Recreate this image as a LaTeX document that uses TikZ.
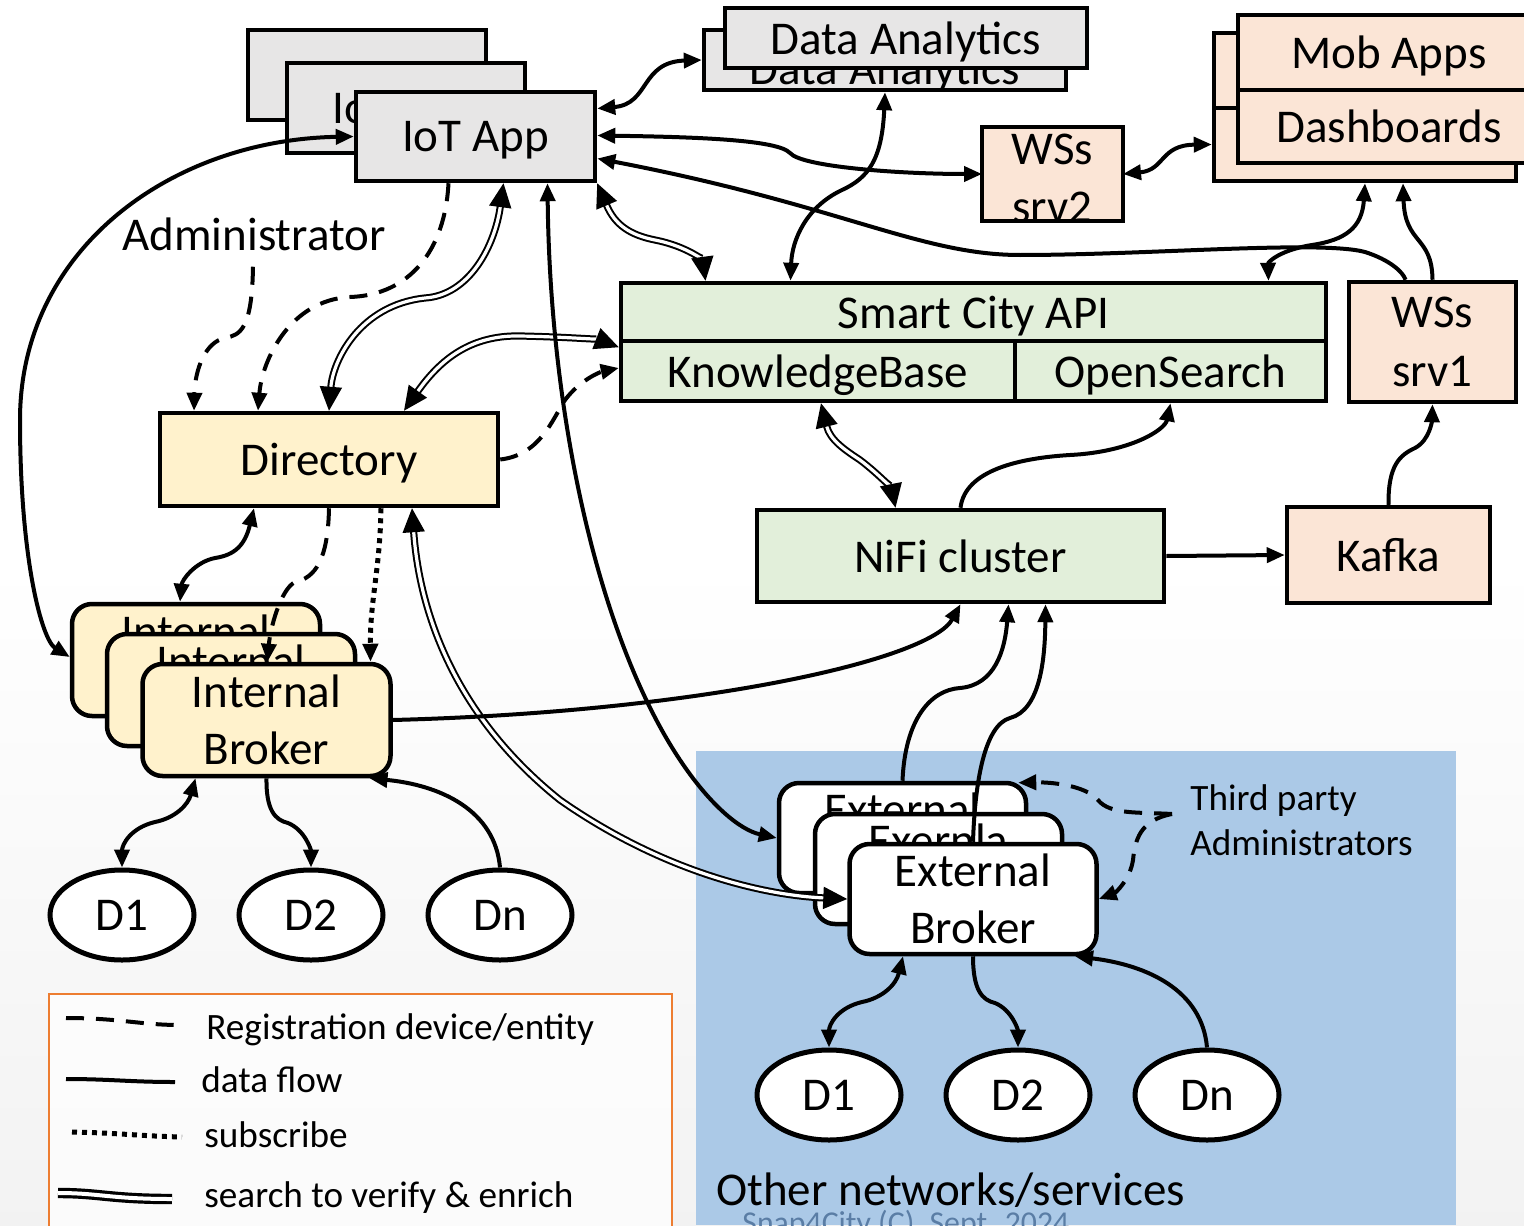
\documentclass[tikz,border=0pt]{standalone}
\usepackage{fontspec}
\setmainfont{Carlito}
\usetikzlibrary{arrows.meta,shapes.geometric,calc}
\definecolor{grayfill}{HTML}{E7E6E6}
\definecolor{yel}{HTML}{FFF2CC}
\definecolor{grn}{HTML}{E2EFDA}
\definecolor{pch}{HTML}{FBE5D6}
\definecolor{org}{HTML}{ED7D31}
\definecolor{blu}{RGB}{171,201,231}
\definecolor{snapc}{RGB}{90,125,165}
\newcommand\msz{\fontsize{23.5pt}{28.5pt}\selectfont}
\newcommand\ssz{\fontsize{18.6pt}{22.5pt}\selectfont}
\begin{document}
\begin{tikzpicture}[x=0.5pt,y=-0.5pt,
 box/.style={draw=black, line width=2.25pt, inner sep=0pt, font=\msz, align=center, text depth=0pt},
 gbox/.style={box, fill=grayfill},
 ybox/.style={box, fill=yel},
 gnbox/.style={box, fill=grn},
 pbox/.style={box, fill=pch},
 ibox/.style={box, fill=yel, rounded corners=10pt, minimum width=124pt, minimum height=56pt},
 ebox/.style={box, fill=white, rounded corners=10pt, minimum width=123.5pt, minimum height=55pt},
 dev/.style={draw=black, line width=2.5pt, fill=white, ellipse, minimum width=72pt, minimum height=45pt, inner sep=0pt, font=\msz},
 conn/.style={draw=black, line width=2pt, >={Triangle[length=9pt,width=7.5pt]}},
 dbl/.style={draw=black, double=white, line width=1pt, double distance=1.6pt, >={Triangle[length=12pt,width=11pt]}},
 dsh/.style={conn, dash pattern=on 9pt off 6pt},
 dtt/.style={conn, line width=2.5pt, dash pattern=on 2.5pt off 2.5pt},
 lbl/.style={inner sep=0pt}
]
\useasboundingbox (0,0) rectangle (1524,1225);
\fill[white] (0,0) rectangle (1524,1225);
\shade[top color=white, bottom color=gray!10] (0,560) rectangle (1524,1225);
\fill[blu] (696,751) rectangle (1456,1225);
\draw[org, line width=1pt, fill=white, fill opacity=0.7] (49,994) rectangle (672,1240);

% IoT App stack
\node[gbox, minimum width=119pt, minimum height=45pt] (iotb1) at (367,75) {};
\node[gbox, minimum width=119pt, minimum height=45pt] (iotb2) at (406,108) {IoT App};
\node[gbox, minimum width=119.5pt, minimum height=44.5pt] (iot) at (475.5,136.5) {IoT App};

% Data Analytics stack
\node[gbox, minimum width=181pt, minimum height=30pt] (datab) at (885,60) {};
\node[lbl, font=\msz, text depth=0pt] (databt) at (885,68) {Data Analytics};
\node[gbox, minimum width=181pt, minimum height=30pt] (data) at (906,38) {Data Analytics};

% Mob Apps / Dashboards
\node[pbox, minimum width=151pt, minimum height=37.5pt] (mobb) at (1365,70.5) {};
\node[pbox, minimum width=151pt, minimum height=36.5pt] (dashb) at (1365,144.5) {};
\node[pbox, minimum width=151pt, minimum height=37.5pt] (mob) at (1389,52.5) {Mob Apps};
\node[pbox, minimum width=151pt, minimum height=36.5pt] (dash) at (1389,126.5) {Dashboards};

% WSs srv2
\node[pbox, outer sep=0pt, minimum width=70.5pt, minimum height=47pt] (srv2) at (1052.5,174) {};
\begin{scope}
\clip (982,127) rectangle (1123,221);
\node[lbl, font=\fontsize{23.5pt}{29pt}\selectfont, align=center] (srv2t) at (1052.5,178) {WSs\\srv2};
\end{scope}
\draw[line width=2.25pt] (srv2.south west) rectangle (srv2.north east);

% Smart City API block
\node[gnbox, minimum width=352.5pt, minimum height=29pt] (sca) at (973.5,312) {Smart City API};
\node[gnbox, minimum width=197pt, minimum height=30pt] (kb) at (818,371) {KnowledgeBase};
\node[gnbox, minimum width=155.5pt, minimum height=30pt] (os) at (1170.5,371) {OpenSearch};
\node[pbox, minimum width=83.5pt, minimum height=60pt, font=\fontsize{23.5pt}{29.5pt}\selectfont] (srv1) at (1432.5,342) {WSs\\srv1};

\node[ybox, minimum width=169pt, minimum height=46.5pt] (dir) at (329,459.5) {Directory};
\node[gnbox, minimum width=203.5pt, minimum height=46pt] (nifi) at (960.5,556) {NiFi cluster};
\node[pbox, minimum width=101.5pt, minimum height=48pt] (kafka) at (1388.5,555) {Kafka};

% Internal brokers
\node[ibox] (ib1) at (196,660) {Internal\\Broker};
\node[ibox] (ib2) at (231,690) {Internal\\Broker};
\node[ibox] (ib) at (266.5,720) {Internal\\Broker};

% External brokers
\node[ebox] (eb1) at (902.5,838) {External\\Broker};
\node[ebox] (eb2) at (938.5,869) {Exernla\\Broker};
\node[ebox] (eb) at (973,899) {External\\Broker};

% devices
\node[dev] (d1) at (122,915) {D1};
\node[dev] (d2) at (311,915) {D2};
\node[dev] (dn) at (500,915) {Dn};
\node[dev] (ed1) at (829,1095) {D1};
\node[dev] (ed2) at (1018,1095) {D2};
\node[dev] (edn) at (1207,1095) {Dn};

% labels
\node[lbl, font=\msz, anchor=base west] (admin) at (122,250) {Administrator};
\node[lbl, font=\ssz, align=left, anchor=west] (tp) at (1190,820) {Third party\\Administrators};
\node[lbl, font=\msz, anchor=base west] (other) at (716,1205) {Other networks/services};
\node[lbl, font=\fontsize{15.9pt}{19pt}\selectfont, text=snapc, anchor=base west] (snap) at (742,1233) {Snap4City (C), Sept. 2024};

% legend
\node[lbl, font=\ssz, anchor=base west] (l1) at (206,1039) {Registration device/entity};
\node[lbl, font=\ssz, anchor=base west] (l2) at (201,1092) {data flow};
\node[lbl, font=\ssz, anchor=base west] (l3) at (204,1147) {subscribe};
\node[lbl, font=\ssz, anchor=base west] (l4) at (204,1207) {search to verify \& enrich};
\draw[dsh] (66,1018) .. controls (120,1018) and (140,1025) .. (180,1025);
\draw[conn] (66,1079) .. controls (110,1079) and (130,1082) .. (175,1082);
\draw[dtt] (72,1132) .. controls (120,1133) and (140,1136) .. (182,1137);
\draw[dbl, line width=1.6pt, double distance=2pt] (58,1193) .. controls (100,1193) and (110,1199) .. (172,1199);

% connectors
\draw[conn,<->] ([shift={(0,-28)}]iot.east) .. controls (650,104) and (640,62) .. (datab.west);
\draw[conn,<->] (datab.south) .. controls (882,160) and (868,178) .. (842,190) .. controls (806,207) and (792,240) .. ([shift={(-183,0)}]sca.north);
\draw[conn,<->] ([shift={(0,-1)}]iot.east) .. controls (700,137) and (778,140) .. (790,153) .. controls (802,167) and (900,174) .. (srv2.west);
\draw[conn,<-] ([shift={(0,22)}]iot.east) .. controls (840,205) and (920,255) .. (1020,255) .. controls (1150,255) and (1320,240) .. (1365,252) .. controls (1390,260) and (1403,272) .. ([shift={(-27,0)}]srv1.north);
\draw[conn,<->] (srv2.east) .. controls (1165,170) and (1160,145) .. (dashb.west);
\draw[conn,<->] (dashb.south) .. controls (1362,228) and (1345,240) .. (1312,245) .. controls (1280,250) and (1268,262) .. ([shift={(295,0)}]sca.north);
\draw[conn,->] (srv1.north) .. controls (1432,235) and (1405,245) .. ([shift={(38,0)}]dashb.south);
\draw[dbl,<->] (iot.south east) .. controls (615,225) and (630,235) .. (655,240) .. controls (690,247) and (703,262) .. ([shift={(-268,0)}]sca.north);
\draw[dbl,<->] ([shift={(28,0)}]iot.south) .. controls (495,245) and (470,295) .. (425,298) .. controls (360,305) and (333,360) .. (dir.north);
\draw[dbl,<->] ([shift={(75,0)}]dir.north) .. controls (440,360) and (470,335) .. (520,336) .. controls (570,337) and (600,340) .. ([shift={(0,4)}]sca.south west);
\draw[dsh,->] (dir.east) .. controls (540,455) and (552,420) .. (565,400) .. controls (580,380) and (600,372) .. ([shift={(0,-3)}]kb.west);
\draw[dsh,->] ([shift={(-27,0)}]iot.south) .. controls (445,250) and (410,295) .. (350,297) .. controls (290,300) and (262,360) .. ([shift={(-71,0)}]dir.north);
\draw[dsh,->] ([shift={(131,16)}]admin.south west) .. controls (252,330) and (240,335) .. (225,338) .. controls (205,342) and (195,370) .. ([shift={(-135,0)}]dir.north);
\draw[conn,<->] ([shift={(-75,0)}]dir.south) .. controls (245,545) and (235,555) .. (215,558) .. controls (195,562) and (182,580) .. ([shift={(-16,0)}]ib1.north);
\draw[dsh,->] (dir.south) .. controls (328,560) and (315,578) .. (295,582) .. controls (280,590) and (270,630) .. ([shift={(1,0)}]ib.north);
\draw[dtt,->] ([shift={(52,0)}]dir.south) .. controls (380,570) and (370,600) .. ([shift={(104,0)}]ib.north);
\draw[conn,<->] (iot.west) .. controls (170,140) and (20,250) .. (20,420) .. controls (20,560) and (42,640) .. ([shift={(0,-3)}]ib1.west);
\draw[conn,<->] ([shift={(72,0)}]iot.south) .. controls (550,420) and (600,640) .. (680,760) .. controls (710,805) and (740,830) .. (eb1.west);
\draw[dbl,<->] ([shift={(83,0)}]dir.south) .. controls (420,620) and (460,720) .. (560,800) .. controls (660,870) and (760,895) .. (eb.west);
\draw[conn,->] (ib.east) .. controls (700,712) and (930,660) .. (nifi.south);
\draw[conn,->] (eb1.north) .. controls (905,720) and (930,690) .. (960,688) .. controls (995,685) and (1005,650) .. ([shift={(48,0)}]nifi.south);
\draw[conn,->] (eb.north) .. controls (975,780) and (985,725) .. (1010,718) .. controls (1040,710) and (1045,660) .. ([shift={(85,0)}]nifi.south);
\draw[dbl,<->] ([shift={(3,0)}]kb.south) .. controls (830,440) and (845,450) .. (860,460) .. controls (880,475) and (892,490) .. ([shift={(-65,0)}]nifi.north);
\draw[conn,->] (nifi.north) .. controls (965,470) and (1020,458) .. (1070,455) .. controls (1130,452) and (1165,430) .. (os.south);
\draw[conn,->] (nifi.east) -- (kafka.west);
\draw[conn,->] (kafka.north) .. controls (1388,465) and (1400,455) .. (1415,448) .. controls (1430,440) and (1432,420) .. (srv1.south);
\draw[conn,<->] ([shift={(-71,0)}]ib.south) .. controls (188,805) and (175,818) .. (155,822) .. controls (130,828) and (122,845) .. (d1.north);
\draw[conn,->] (ib.south) .. controls (266,810) and (275,820) .. (288,823) .. controls (305,830) and (311,850) .. (d2.north);
\draw[conn,->] (dn.north) .. controls (495,810) and (440,785) .. ([shift={(103,0)}]ib.south);
\draw[conn,<->] ([shift={(-70,0)}]eb.south) .. controls (896,985) and (882,998) .. (862,1002) .. controls (837,1008) and (829,1025) .. (ed1.north);
\draw[conn,->] (eb.south) .. controls (973,990) and (982,1000) .. (995,1003) .. controls (1012,1010) and (1018,1030) .. (ed2.north);
\draw[conn,->] (edn.north) .. controls (1202,990) and (1147,965) .. ([shift={(102,0)}]eb.south);
\coordinate (tpc) at ([shift={(-18,-6)}]tp.west);
\draw[dsh,->] (tpc) .. controls (1140,812) and (1110,815) .. (1098,800) .. controls (1085,785) and (1050,782) .. ([shift={(-10,2)}]eb1.north east);
\draw[dsh,->] (tpc) .. controls (1140,820) and (1135,840) .. (1133,860) .. controls (1130,880) and (1115,893) .. (eb.east);
\end{tikzpicture}
\end{document}
